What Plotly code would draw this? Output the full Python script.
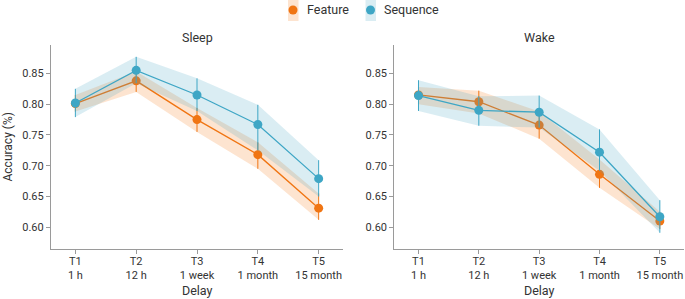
import plotly.graph_objects as go

categories = ["T1<br>1 h", "T2<br>12 h", "T3<br>1 week", "T4<br>1 month", "T5<br>15 month"]
x_pos = [0, 1, 2, 3, 4]

sleep_feature = [0.801, 0.838, 0.775, 0.718, 0.631]
sleep_feature_lo = [0.788, 0.820, 0.755, 0.695, 0.612]
sleep_feature_hi = [0.815, 0.853, 0.794, 0.738, 0.655]
sleep_sequence = [0.802, 0.855, 0.815, 0.767, 0.679]
sleep_sequence_lo = [0.779, 0.834, 0.789, 0.725, 0.650]
sleep_sequence_hi = [0.825, 0.877, 0.842, 0.799, 0.709]

wake_feature = [0.815, 0.804, 0.766, 0.686, 0.610]
wake_feature_lo = [0.800, 0.785, 0.744, 0.664, 0.597]
wake_feature_hi = [0.828, 0.822, 0.788, 0.710, 0.625]
wake_sequence = [0.814, 0.790, 0.787, 0.722, 0.617]
wake_sequence_lo = [0.789, 0.765, 0.762, 0.692, 0.591]
wake_sequence_hi = [0.839, 0.813, 0.814, 0.759, 0.644]

y_ticks = [0.60, 0.65, 0.70, 0.75, 0.80, 0.85]
legend_names = ["Feature", "Sequence"]

ORANGE = "#F07513"
BLUE = "#3EA6C5"
ORANGE_FILL = "rgba(245,130,40,0.22)"
BLUE_FILL = "rgba(70,165,195,0.20)"
FONT = "Roboto"
TEXT = "#333333"
W, H = 685, 299

fig = go.Figure()


def add_series(xa, ya, mean, lo, hi, color, fill, name):
    fig.add_trace(go.Scatter(
        x=x_pos + x_pos[::-1], y=hi + lo[::-1], fill="toself",
        fillcolor=fill, line=dict(width=0), mode="lines",
        hoverinfo="skip", showlegend=False, xaxis=xa, yaxis=ya))
    fig.add_trace(go.Scatter(
        x=x_pos, y=mean, mode="lines+markers", name=name,
        line=dict(color=color, width=1.3),
        marker=dict(color=color, size=9),
        error_y=dict(type="data", symmetric=False,
                     array=[h - m for h, m in zip(hi, mean)],
                     arrayminus=[m - l for m, l in zip(mean, lo)],
                     color=color, thickness=1, width=0),
        showlegend=False, xaxis=xa, yaxis=ya))


add_series("x", "y", sleep_feature, sleep_feature_lo, sleep_feature_hi, ORANGE, ORANGE_FILL, "Feature")
add_series("x", "y", sleep_sequence, sleep_sequence_lo, sleep_sequence_hi, BLUE, BLUE_FILL, "Sequence")
add_series("x2", "y2", wake_feature, wake_feature_lo, wake_feature_hi, ORANGE, ORANGE_FILL, "Feature")
add_series("x2", "y2", wake_sequence, wake_sequence_lo, wake_sequence_hi, BLUE, BLUE_FILL, "Sequence")

axis_common = dict(
    showline=True, linecolor="#9a9a9a", linewidth=1.2,
    ticks="outside", ticklen=4, tickcolor="#9a9a9a", tickwidth=1,
    showgrid=False, zeroline=False,
    tickfont=dict(family=FONT, size=11, color=TEXT),
)

x_dom1 = [0.0745, 0.5007]
x_dom2 = [0.5757, 0.9985]
y_dom = [0.168, 0.849]

# manual legend (swatch + marker + label), positioned in pixels
legend_items = [(legend_names[0], ORANGE, ORANGE_FILL, 293), (legend_names[1], BLUE, BLUE_FILL, 370.5)]
leg_shapes = []
leg_annots = []
for name, color, fill, cx in legend_items:
    leg_shapes.append(dict(type="rect", xref="paper", yref="paper", layer="below",
                           x0=(cx - 5) / W, x1=(cx + 5.5) / W, y0=1 - 21 / H, y1=1.0,
                           fillcolor=fill, line=dict(width=0)))
    leg_shapes.append(dict(type="circle", xref="paper", yref="paper", layer="above",
                           x0=(cx - 4.5) / W, x1=(cx + 4.5) / W,
                           y0=1 - 14.5 / H, y1=1 - 5.5 / H,
                           fillcolor=color, line=dict(width=0)))
    leg_annots.append(dict(text=name, x=(cx + 11.5) / W, y=1 - 10 / H, xref="paper", yref="paper",
                           xanchor="left", yanchor="middle", showarrow=False,
                           font=dict(size=12.5, family=FONT, color=TEXT)))

fig.update_layout(
    width=W, height=H,
    margin=dict(l=0, r=0, t=0, b=0),
    plot_bgcolor="white", paper_bgcolor="white",
    font=dict(family=FONT, size=11, color=TEXT),
    showlegend=False,
    xaxis=dict(domain=x_dom1, range=[-0.4, 4.4], tickvals=x_pos,
               ticktext=categories, anchor="y", ticklabelstandoff=-2, **axis_common),
    yaxis=dict(domain=y_dom, range=[0.565, 0.896], tickvals=y_ticks,
               tickformat=".2f", anchor="x", **axis_common),
    xaxis2=dict(domain=x_dom2, range=[-0.4, 4.4], tickvals=x_pos,
                ticktext=categories, anchor="y2", ticklabelstandoff=-2, **axis_common),
    yaxis2=dict(domain=y_dom, range=[0.565, 0.896], tickvals=y_ticks,
                tickformat=".2f", anchor="x2", **axis_common),
    annotations=[
        dict(text="Sleep", x=sum(x_dom1) / 2, y=0.876, xref="paper", yref="paper",
             xanchor="center", yanchor="middle", showarrow=False, font=dict(size=12.5)),
        dict(text="Wake", x=sum(x_dom2) / 2, y=0.876, xref="paper", yref="paper",
             xanchor="center", yanchor="middle", showarrow=False, font=dict(size=12.5)),
        dict(text="Delay", x=sum(x_dom1) / 2, y=0.027, xref="paper", yref="paper",
             xanchor="center", yanchor="middle", showarrow=False, font=dict(size=12.5)),
        dict(text="Delay", x=sum(x_dom2) / 2, y=0.027, xref="paper", yref="paper",
             xanchor="center", yanchor="middle", showarrow=False, font=dict(size=12.5)),
        dict(text="Accuracy (%)", x=0.011, y=sum(y_dom) / 2, xref="paper", yref="paper",
             xanchor="center", yanchor="middle", textangle=-90, showarrow=False,
             font=dict(size=12)),
    ] + leg_annots,
    shapes=leg_shapes,
)

fig.write_html("out.html", config={"displayModeBar": False},
               post_script="document.body.style.margin='0';")
